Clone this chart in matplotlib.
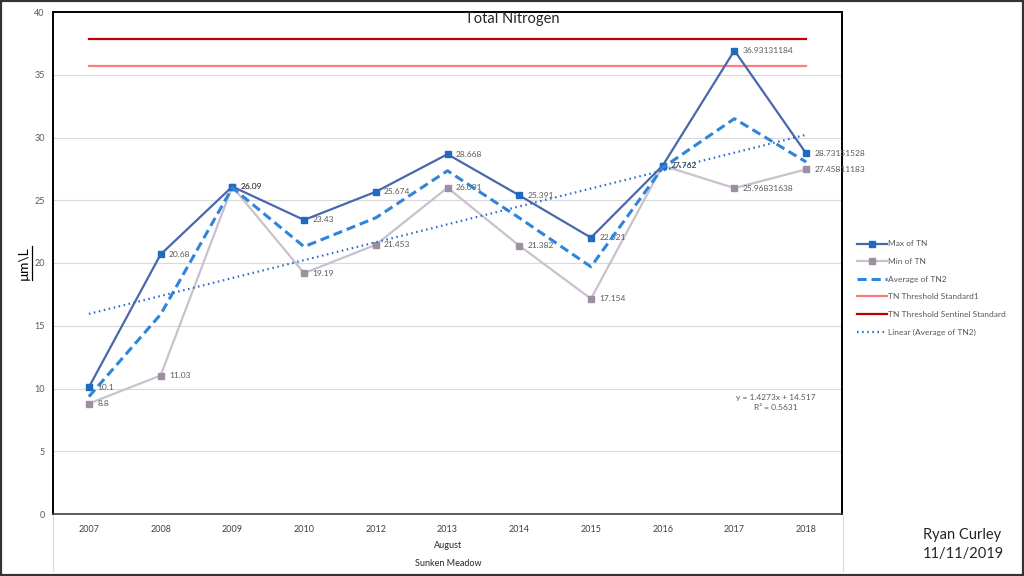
import numpy as np
import matplotlib.pyplot as plt
from matplotlib.lines import Line2D
from matplotlib.patches import Rectangle

plt.rcParams['font.family'] = ['Lato', 'DejaVu Sans']

# ---------------------------------------------------------------- data
years = ['2007', '2008', '2009', '2010', '2012', '2013', '2014', '2015', '2016', '2017', '2018']
max_tn = [10.1, 20.68, 26.09, 23.43, 25.674, 28.668, 25.391, 22.021, 27.762, 36.93131184, 28.73151528]
min_tn = [8.8, 11.03, 26.09, 19.19, 21.453, 26.001, 21.382, 17.154, 27.762, 25.96831638, 27.45811183]
avg_tn2 = [9.35, 15.9, 26.0, 21.3, 23.6, 27.35, 23.6, 19.7, 27.6, 31.5, 28.05]
thr_standard1 = 35.7
thr_sentinel = 37.86
trend_slope = 1.4273
trend_icept = 14.517
trend_r2 = 0.5631

c_max_line = '#4A66AC'
c_max_mark = '#1F6BC1'
c_min_line = '#C9C1CD'
c_min_mark = '#9D8FA1'
c_avg = '#2E85DB'
c_std1 = '#FF7C80'
c_sent = '#C00000'
c_lin = '#2A6DD2'
c_lab = '#595959'

fig = plt.figure(figsize=(10.24, 5.76), dpi=100)
ax = fig.add_axes([53/1024, 1 - 514/576, (842-53)/1024, (514-12)/576])

x = np.arange(len(years))

ax.plot(x, max_tn, color=c_max_line, lw=1.6, marker='s', ms=4.5,
        mfc=c_max_mark, mec=c_max_mark, label='Max of TN', zorder=4)
ax.plot(x, min_tn, color=c_min_line, lw=1.6, marker='s', ms=4.5,
        mfc=c_min_mark, mec=c_min_mark, label='Min of TN', zorder=3)
ax.plot(x, avg_tn2, color=c_avg, lw=2.2, dashes=(3, 1.6), label='Average of TN2', zorder=5)
ax.plot([x[0], x[-1]], [thr_standard1]*2, color=c_std1, lw=1.6, label='TN Threshold Standard1')
ax.plot([x[0], x[-1]], [thr_sentinel]*2, color=c_sent, lw=1.6, label='TN Threshold Sentinel Standard')
trend = trend_slope * (x + 1) + trend_icept
ax.plot(x, trend, color=c_lin, lw=1.6, dashes=(0.7, 1.6), label='Linear (Average of TN2)', zorder=6)

for xi, v in zip(x, max_tn):
    ax.annotate(str(v), (xi, v), xytext=(6, 0),
                textcoords='offset points', va='center', ha='left', fontsize=6, color=c_lab)
for xi, v in zip(x, min_tn):
    ax.annotate(str(v), (xi, v), xytext=(6, 0),
                textcoords='offset points', va='center', ha='left', fontsize=6, color=c_lab)

ax.text(9.57, 8.9, 'y = %.4fx + %.3f\nR² = %.4f' % (trend_slope, trend_icept, trend_r2),
        ha='center', va='center', fontsize=6, color=c_lab, linespacing=1.5)

ax.set_xlim(-0.5, len(years) - 0.5)
ax.set_ylim(0, 40)
ax.set_yticks(np.arange(0, 41, 5))
ax.set_xticks(x)
ax.set_xticklabels(years)
ax.tick_params(axis='both', length=0, labelsize=6.5)
ax.tick_params(axis='y', colors=c_lab, pad=6)
ax.tick_params(axis='x', colors='#404040', pad=8)
ax.grid(axis='y', color='#D9D9D9', lw=0.8)
ax.set_axisbelow(True)
for s in ['left', 'top', 'right']:
    ax.spines[s].set_color('black')
    ax.spines[s].set_linewidth(1.4)
ax.spines['bottom'].set_color('#404040')
ax.spines['bottom'].set_linewidth(1.2)

# multi level category labels
fig.text(448/1024, 1 - 545/576, 'August', ha='center', va='center', fontsize=6.5, color='#262626')
fig.text(448/1024, 1 - 564/576, 'Sunken Meadow', ha='center', va='center', fontsize=6.5, color='#262626')
for xp in [53/1024, 843/1024]:
    fig.add_artist(Line2D([xp, xp], [1 - 515/576, 1 - 571/576], color='#D9D9D9', lw=0.8))

fig.text(0.5, 1 - 19/576, 'Total Nitrogen', ha='center', va='center', fontsize=10.5, color='#262626')
ylab = fig.text(24/1024, 1 - 263/576, 'µm\\L', rotation=90, ha='center', va='center',
                fontsize=10, color='black')

fig.text(923/1024, 1 - 535/576, 'Ryan Curley', ha='left', va='center', fontsize=10.5, color='#262626')
fig.text(923/1024, 1 - 554/576, '11/11/2019', ha='left', va='center', fontsize=10.5, color='#262626')

fig.legend(*ax.get_legend_handles_labels(), loc='upper left',
           bbox_to_anchor=(849/1024, 1 - 233/576), frameon=False, fontsize=6,
           handlelength=3.6, handletextpad=0.15, labelspacing=1.27, labelcolor=c_lab)

fig.patches.append(Rectangle((0, 0), 1, 1, transform=fig.transFigure, fill=False,
                             edgecolor='#333333', lw=3))

# underline for the y label
fig.canvas.draw()
bb = ylab.get_window_extent().transformed(fig.transFigure.inverted())
ux = bb.x1 + 1.5/1024
fig.add_artist(Line2D([ux, ux], [bb.y0, bb.y1], color='black', lw=0.9))

fig.savefig('out.png', dpi=100)
